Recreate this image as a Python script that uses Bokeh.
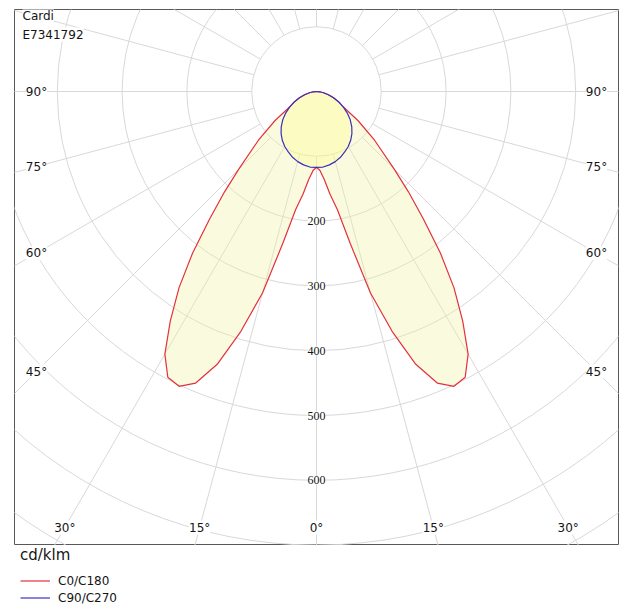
import numpy as np
from bokeh.plotting import figure
from bokeh.layouts import column
from bokeh.models import Range1d, Label, LabelSet, ColumnDataSource, Legend, LegendItem
from bokeh.embed import file_html
from bokeh.resources import INLINE

# ---------------- data ----------------
title_lines = ["Cardi", "E7341792"]
unit_label = "cd/klm"
series_names = ["C0/C180", "C90/C270"]

gamma_c0 = [0, 2.5, 5, 7.5, 10, 12.5, 15, 17.5, 20, 22.5, 25, 27.5, 30, 32.5, 35,
            37.5, 40, 42.5, 45, 50, 55, 60, 65, 70, 75, 80, 85, 90]
cd_c0 = [117, 122, 136, 160, 185, 240, 322, 388, 448, 487, 502, 497, 468, 420, 370,
         314, 256, 210, 170, 117, 78, 48, 37, 28, 19, 11, 5, 0]

gamma_c90 = [0, 5, 10, 15, 20, 25, 30, 35, 40, 45, 50, 55, 60, 65, 70, 75, 80, 85, 90]
cd_c90 = [117, 117, 115, 112, 108, 103, 98, 92, 85, 77, 68, 58, 48, 38, 28, 19, 11, 5, 0]

ring_values = [100, 200, 300, 400, 500, 600, 700, 800, 900]
ring_label_values = [200, 300, 400, 500, 600]
side_angle_labels = [90, 75, 60, 45]
bottom_angle_labels = [-30, -15, 0, 15, 30]
spoke_step = 15

# ---------------- layout constants ----------------
PX = 0.648                       # pixels per cd/klm
X_HALF = 302 / PX
Y_TOP = 82 / PX
Y_BOT = -454 / PX
SIDE_X = 280 / PX
BOTTOM_Y = -436 / PX
FONT = "DejaVu Sans"
GRID = "#d8d8d8"
RED = "#e3303c"
BLUE = "#3a2fbf"
TXT = "#151515"


def polar_curve(gammas, values):
    g = np.radians(np.array(gammas, dtype=float))
    v = np.array(values, dtype=float)
    xl = -(v * np.sin(g))[::-1]
    yl = -(v * np.cos(g))[::-1]
    xr = v * np.sin(g)
    yr = -(v * np.cos(g))
    return np.concatenate([xl, xr[1:]]), np.concatenate([yl, yr[1:]])


p = figure(width=624, height=545,
           x_range=Range1d(-X_HALF, X_HALF), y_range=Range1d(Y_BOT, Y_TOP),
           x_axis_type=None, y_axis_type=None,
           output_backend="svg", toolbar_location=None,
           min_border_left=14, min_border_right=6, min_border_top=9, min_border_bottom=0,
           outline_line_color="#585858", outline_line_width=1,
           background_fill_color="white", border_fill_color="white")

# rings
p.circle(x=[0] * len(ring_values), y=[0] * len(ring_values),
         radius=[v for v in ring_values], fill_color=None,
         line_color=GRID, line_width=1)

# spokes (start at the first ring)
sp = np.radians(np.arange(0, 360, spoke_step))
r0, r1 = ring_values[0], 1400
p.segment(x0=r0 * np.sin(sp), y0=-r0 * np.cos(sp),
          x1=r1 * np.sin(sp), y1=-r1 * np.cos(sp),
          line_color=GRID, line_width=1)

# curves
x0c, y0c = polar_curve(gamma_c0, cd_c0)
x90c, y90c = polar_curve(gamma_c90, cd_c90)
p.patch(x0c, y0c, fill_color="#f0f0a0", fill_alpha=0.35, line_color=None)
p.patch(x90c, y90c, fill_color="#ffff80", fill_alpha=0.3, line_color=None)
p.line(x0c, y0c, line_color=RED, line_width=1.2)
p.line(x90c, y90c, line_color=BLUE, line_width=1.2)

# ring labels
ring_src = ColumnDataSource(dict(
    x=[0] * len(ring_label_values),
    y=[-v for v in ring_label_values],
    text=[str(v) for v in ring_label_values]))
p.add_layout(LabelSet(x="x", y="y", text="text", source=ring_src,
                      text_align="center", text_baseline="middle",
                      text_font=FONT, text_font_size="12px", text_color=TXT,
                      background_fill_color="white"))

# side angle labels
for a in side_angle_labels:
    yv = 0.0 if a == 90 else -SIDE_X / np.tan(np.radians(a))
    for sgn in (-1, 1):
        p.add_layout(Label(x=sgn * SIDE_X, y=yv, text=f"{a}°",
                           text_align="center", text_baseline="middle",
                           text_font=FONT, text_font_size="12px", text_color=TXT,
                           background_fill_color="white"))

# bottom angle labels
for a in bottom_angle_labels:
    xv = -BOTTOM_Y * np.tan(np.radians(a))
    p.add_layout(Label(x=xv, y=BOTTOM_Y, text=f"{abs(a)}°",
                       text_align="center", text_baseline="middle",
                       text_font=FONT, text_font_size="12px", text_color=TXT,
                       background_fill_color="white"))

# header text
for i, t in enumerate(title_lines):
    p.add_layout(Label(x=-X_HALF + 8 / PX, y=Y_TOP - (6 + 19 * i) / PX, text=t,
                       text_align="left", text_baseline="middle",
                       text_font=FONT, text_font_size="12px", text_color=TXT,
                       background_fill_color="white"))

# legend strip below the diagram (same side borders so the frames line up)
q = figure(width=624, height=62, x_range=Range1d(0, 1), y_range=Range1d(0, 1),
           x_axis_type=None, y_axis_type=None,
           output_backend="svg", toolbar_location=None,
           min_border_left=14, min_border_right=6, min_border_top=0, min_border_bottom=0,
           outline_line_color=None, background_fill_color="white", border_fill_color="white")
red_key = q.line(x=[5, 6], y=[5, 6], line_color=RED, line_width=1.2)
blue_key = q.line(x=[5, 6], y=[5, 6], line_color=BLUE, line_width=1.2)
legend = Legend(items=[LegendItem(label=series_names[0], renderers=[red_key]),
                       LegendItem(label=series_names[1], renderers=[blue_key])],
                title=unit_label, location=(5, 0), orientation="vertical",
                title_text_font=FONT, title_text_font_size="15px",
                title_text_font_style="normal", title_text_color=TXT,
                label_text_font=FONT, label_text_font_size="12px", label_text_color=TXT,
                glyph_width=30, glyph_height=17, label_height=17, label_standoff=8,
                spacing=0, padding=1, margin=0, title_standoff=8,
                border_line_alpha=0, background_fill_alpha=0)
q.add_layout(legend)

open("out.html", "w").write(file_html(column(p, q, spacing=0), INLINE))
